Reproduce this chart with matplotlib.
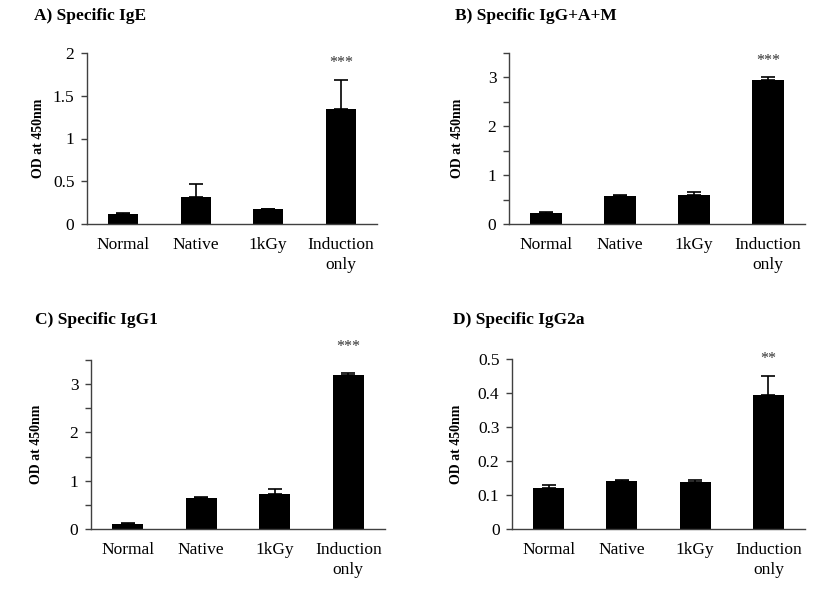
import matplotlib
matplotlib.use("Agg")
import matplotlib.pyplot as plt
import numpy as np

plt.rcParams['font.family'] = ['Liberation Serif', 'DejaVu Serif']

groups = ['Normal', 'Native', '1kGy', 'Induction\nonly']

titles = ['A) Specific IgE', 'B) Specific IgG+A+M', 'C) Specific IgG1', 'D) Specific IgG2a']
means_a = [0.12, 0.32, 0.17, 1.35]
errs_a = [0.01, 0.15, 0.01, 0.34]
means_b = [0.23, 0.57, 0.60, 2.95]
errs_b = [0.02, 0.02, 0.05, 0.06]
means_c = [0.10, 0.65, 0.72, 3.18]
errs_c = [0.02, 0.02, 0.10, 0.05]
means_d = [0.120, 0.141, 0.138, 0.393]
errs_d = [0.010, 0.002, 0.007, 0.058]
stars = ['***', '***', '***', '**']

ylims = [2, 3.5, 3.5, 0.5]
major = [0.5, 1, 1, 0.1]
minor = [0.5, 0.5, 0.5, 0.1]
star_offset = [6, 6, 13, 6]

fig = plt.figure(figsize=(8.27, 5.94), dpi=100)
W, H = 827, 594

# axes boxes in pixels: left, right, top, bottom
boxes = [(87, 377, 53, 224), (509, 805, 53, 224), (91, 385, 360, 529), (512, 805, 359, 529)]
title_pos = [(34, 20), (455, 20), (35, 324), (453, 324)]
ylab_x = [38, 458, 36, 457]

data = [(means_a, errs_a), (means_b, errs_b), (means_c, errs_c), (means_d, errs_d)]
x = np.arange(len(groups))

for i, (means, errs) in enumerate(data):
    l, r, t, b = boxes[i]
    ax = fig.add_axes([l / W, 1 - b / H, (r - l) / W, (b - t) / H])
    ax.bar(x, means, width=0.42, color='black', zorder=2)
    ax.errorbar(x, means, yerr=[np.zeros(len(means)), errs], fmt='none',
                ecolor='black', elinewidth=1.2, capsize=5, capthick=1.2, zorder=1)
    ax.set_xlim(-0.5, 3.5)
    ax.set_ylim(0, ylims[i])
    ax.set_yticks(np.arange(0, ylims[i] + 1e-9, minor[i]))
    labels = []
    for v in np.arange(0, ylims[i] + 1e-9, minor[i]):
        if abs(v / major[i] - round(v / major[i])) < 1e-6:
            labels.append('%g' % round(v, 3))
        else:
            labels.append('')
    ax.set_yticklabels(labels, fontsize=12.5)
    ax.set_xticks(x)
    ax.set_xticklabels(groups, fontsize=12.5, linespacing=1.4)
    ax.tick_params(axis='x', length=0, pad=9)
    ax.tick_params(axis='y', length=4, width=1, color='#404040', pad=5)
    for s in ['top', 'right']:
        ax.spines[s].set_visible(False)
    for s in ['left', 'bottom']:
        ax.spines[s].set_color('#404040')
        ax.spines[s].set_linewidth(1)
    ax.annotate(stars[i], (3, means[3] + errs[3]), xytext=(0, star_offset[i]),
                textcoords='offset points', ha='center', va='bottom',
                fontsize=11.5, color='#333333')
    fig.text(ylab_x[i] / W, 1 - (t + b) / 2 / H, 'OD at 450nm', rotation=90,
             ha='center', va='center', fontsize=10, fontweight='bold')
    fig.text(title_pos[i][0] / W, 1 - title_pos[i][1] / H, titles[i],
             ha='left', va='baseline', fontsize=12.5, fontweight='bold')

plt.savefig('out.png', dpi=100)
